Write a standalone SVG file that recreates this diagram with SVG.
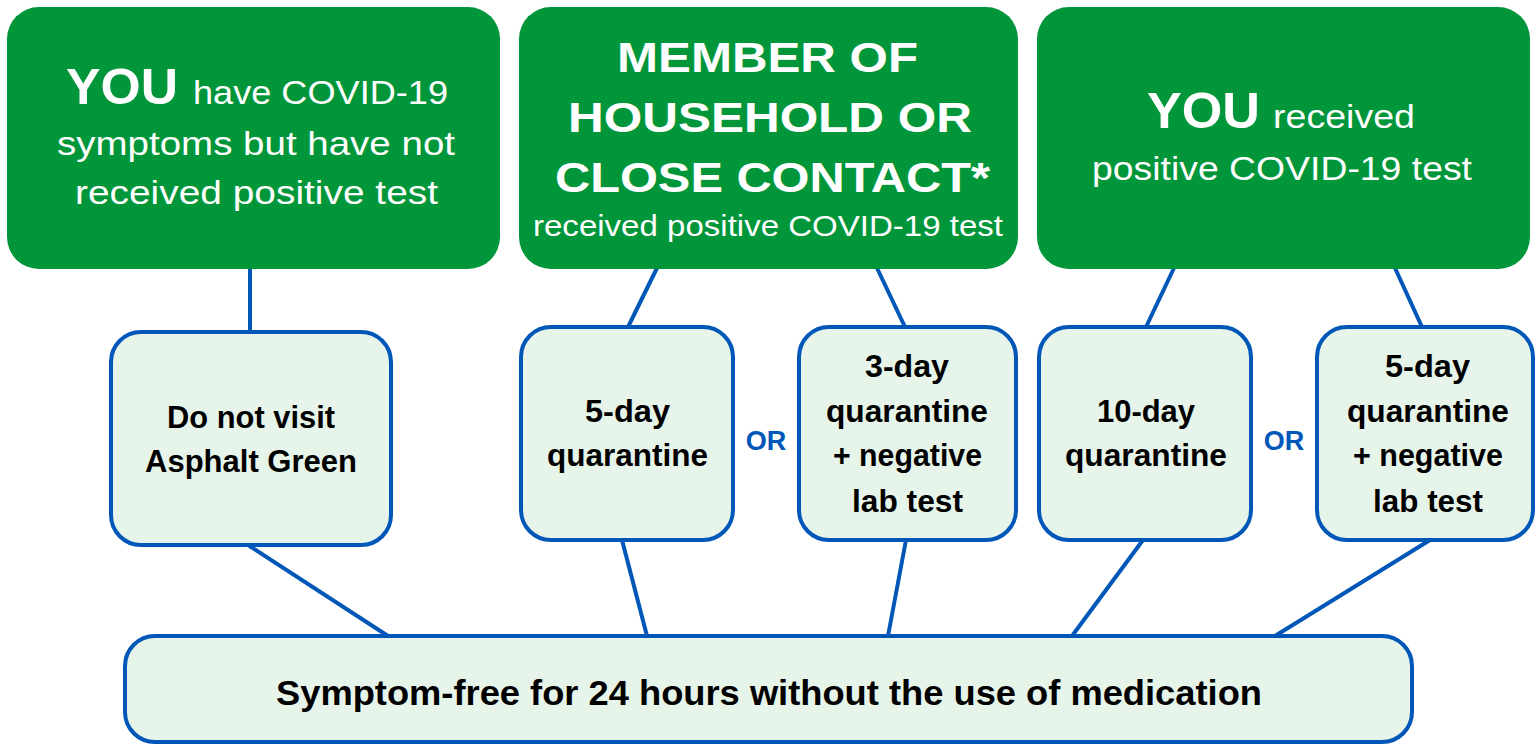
<svg xmlns="http://www.w3.org/2000/svg" width="1539" height="744" viewBox="0 0 1539 744">
<style>
.g{fill:#009639}
.l{fill:#e6f4ea;stroke:#0057b8;stroke-width:4}
.w{fill:#fff;font-family:"Liberation Sans",Arial,sans-serif}
.wb{font-weight:bold}
.k{fill:#000;font-family:"Liberation Sans",Arial,sans-serif;font-weight:bold}
.or{fill:#0057b8;font-family:"Liberation Sans",Arial,sans-serif;font-weight:bold;font-size:27px}
#connectors line{stroke:#0057b8;stroke-width:4;stroke-linecap:butt}
</style>
<rect width="1539" height="744" fill="#fff"/>
<g id="connectors">
<line x1="250" y1="268" x2="250" y2="332"/>
<line x1="657" y1="268" x2="628" y2="327"/>
<line x1="877" y1="268" x2="905" y2="327"/>
<line x1="1174" y1="268" x2="1146" y2="327"/>
<line x1="1395" y1="268" x2="1422" y2="327"/>
<line x1="248" y1="545" x2="388" y2="636"/>
<line x1="622" y1="540" x2="647" y2="636"/>
<line x1="906" y1="540" x2="888" y2="636"/>
<line x1="1143" y1="540" x2="1072" y2="636"/>
<line x1="1430" y1="540" x2="1275" y2="636"/>
</g>
<g id="n1">
<rect class="g" x="7" y="7" width="493" height="262" rx="32"/>
<text class="w wb" x="66" y="104" font-size="50" textLength="112" lengthAdjust="spacingAndGlyphs">YOU</text>
<text class="w" x="193" y="104" font-size="33" textLength="255" lengthAdjust="spacingAndGlyphs">have COVID-19</text>
<text class="w" x="57" y="155" font-size="33" textLength="398" lengthAdjust="spacingAndGlyphs">symptoms but have not</text>
<text class="w" x="75" y="204" font-size="33" textLength="363" lengthAdjust="spacingAndGlyphs">received positive test</text>
</g>
<g id="n2">
<rect class="g" x="519" y="7" width="499" height="262" rx="32"/>
<text class="w wb" x="617" y="72" font-size="43" textLength="301" lengthAdjust="spacingAndGlyphs">MEMBER OF</text>
<text class="w wb" x="568" y="132" font-size="43" textLength="404" lengthAdjust="spacingAndGlyphs">HOUSEHOLD OR</text>
<text class="w wb" x="555" y="192" font-size="43" textLength="435" lengthAdjust="spacingAndGlyphs">CLOSE CONTACT*</text>
<text class="w" x="533" y="236" font-size="29" textLength="470" lengthAdjust="spacingAndGlyphs">received positive COVID-19 test</text>
</g>
<g id="n3">
<rect class="g" x="1037" y="7" width="493" height="262" rx="32"/>
<text class="w wb" x="1147" y="128" font-size="50" textLength="113" lengthAdjust="spacingAndGlyphs">YOU</text>
<text class="w" x="1273" y="128" font-size="33" textLength="142" lengthAdjust="spacingAndGlyphs">received</text>
<text class="w" x="1092" y="180" font-size="33" textLength="380" lengthAdjust="spacingAndGlyphs">positive COVID-19 test</text>
</g>
<g id="n4">
<rect class="l" x="111" y="332" width="280" height="213" rx="30"/>
<text class="k" x="167" y="428" font-size="32" textLength="168" lengthAdjust="spacingAndGlyphs">Do not visit</text>
<text class="k" x="145" y="472" font-size="32" textLength="212" lengthAdjust="spacingAndGlyphs">Asphalt Green</text>
</g>
<g id="n5">
<rect class="l" x="521" y="327" width="212" height="213" rx="30"/>
<text class="k" x="585" y="422" font-size="32" textLength="85" lengthAdjust="spacingAndGlyphs">5-day</text>
<text class="k" x="547" y="466" font-size="32" textLength="161" lengthAdjust="spacingAndGlyphs">quarantine</text>
</g>
<text id="or1" class="or" x="766" y="450" text-anchor="middle">OR</text>
<g id="n6">
<rect class="l" x="799" y="327" width="217" height="213" rx="30"/>
<text class="k" x="865" y="377" font-size="32" textLength="84" lengthAdjust="spacingAndGlyphs">3-day</text>
<text class="k" x="826" y="422" font-size="32" textLength="162" lengthAdjust="spacingAndGlyphs">quarantine</text>
<text class="k" x="833" y="466" font-size="32" textLength="149" lengthAdjust="spacingAndGlyphs">+ negative</text>
<text class="k" x="852" y="512" font-size="32" textLength="111" lengthAdjust="spacingAndGlyphs">lab test</text>
</g>
<g id="n7">
<rect class="l" x="1039" y="327" width="212" height="213" rx="30"/>
<text class="k" x="1097" y="422" font-size="32" textLength="98" lengthAdjust="spacingAndGlyphs">10-day</text>
<text class="k" x="1065" y="466" font-size="32" textLength="162" lengthAdjust="spacingAndGlyphs">quarantine</text>
</g>
<text id="or2" class="or" x="1284" y="450" text-anchor="middle">OR</text>
<g id="n8">
<rect class="l" x="1317" y="327" width="216" height="213" rx="30"/>
<text class="k" x="1385" y="377" font-size="32" textLength="85" lengthAdjust="spacingAndGlyphs">5-day</text>
<text class="k" x="1347" y="422" font-size="32" textLength="162" lengthAdjust="spacingAndGlyphs">quarantine</text>
<text class="k" x="1353" y="466" font-size="32" textLength="150" lengthAdjust="spacingAndGlyphs">+ negative</text>
<text class="k" x="1373" y="512" font-size="32" textLength="110" lengthAdjust="spacingAndGlyphs">lab test</text>
</g>
<g id="n9">
<rect class="l" x="125" y="636" width="1287" height="106" rx="30"/>
<text class="k" x="276" y="705" font-size="35" textLength="986" lengthAdjust="spacingAndGlyphs">Symptom-free for 24 hours without the use of medication</text>
</g>
</svg>
